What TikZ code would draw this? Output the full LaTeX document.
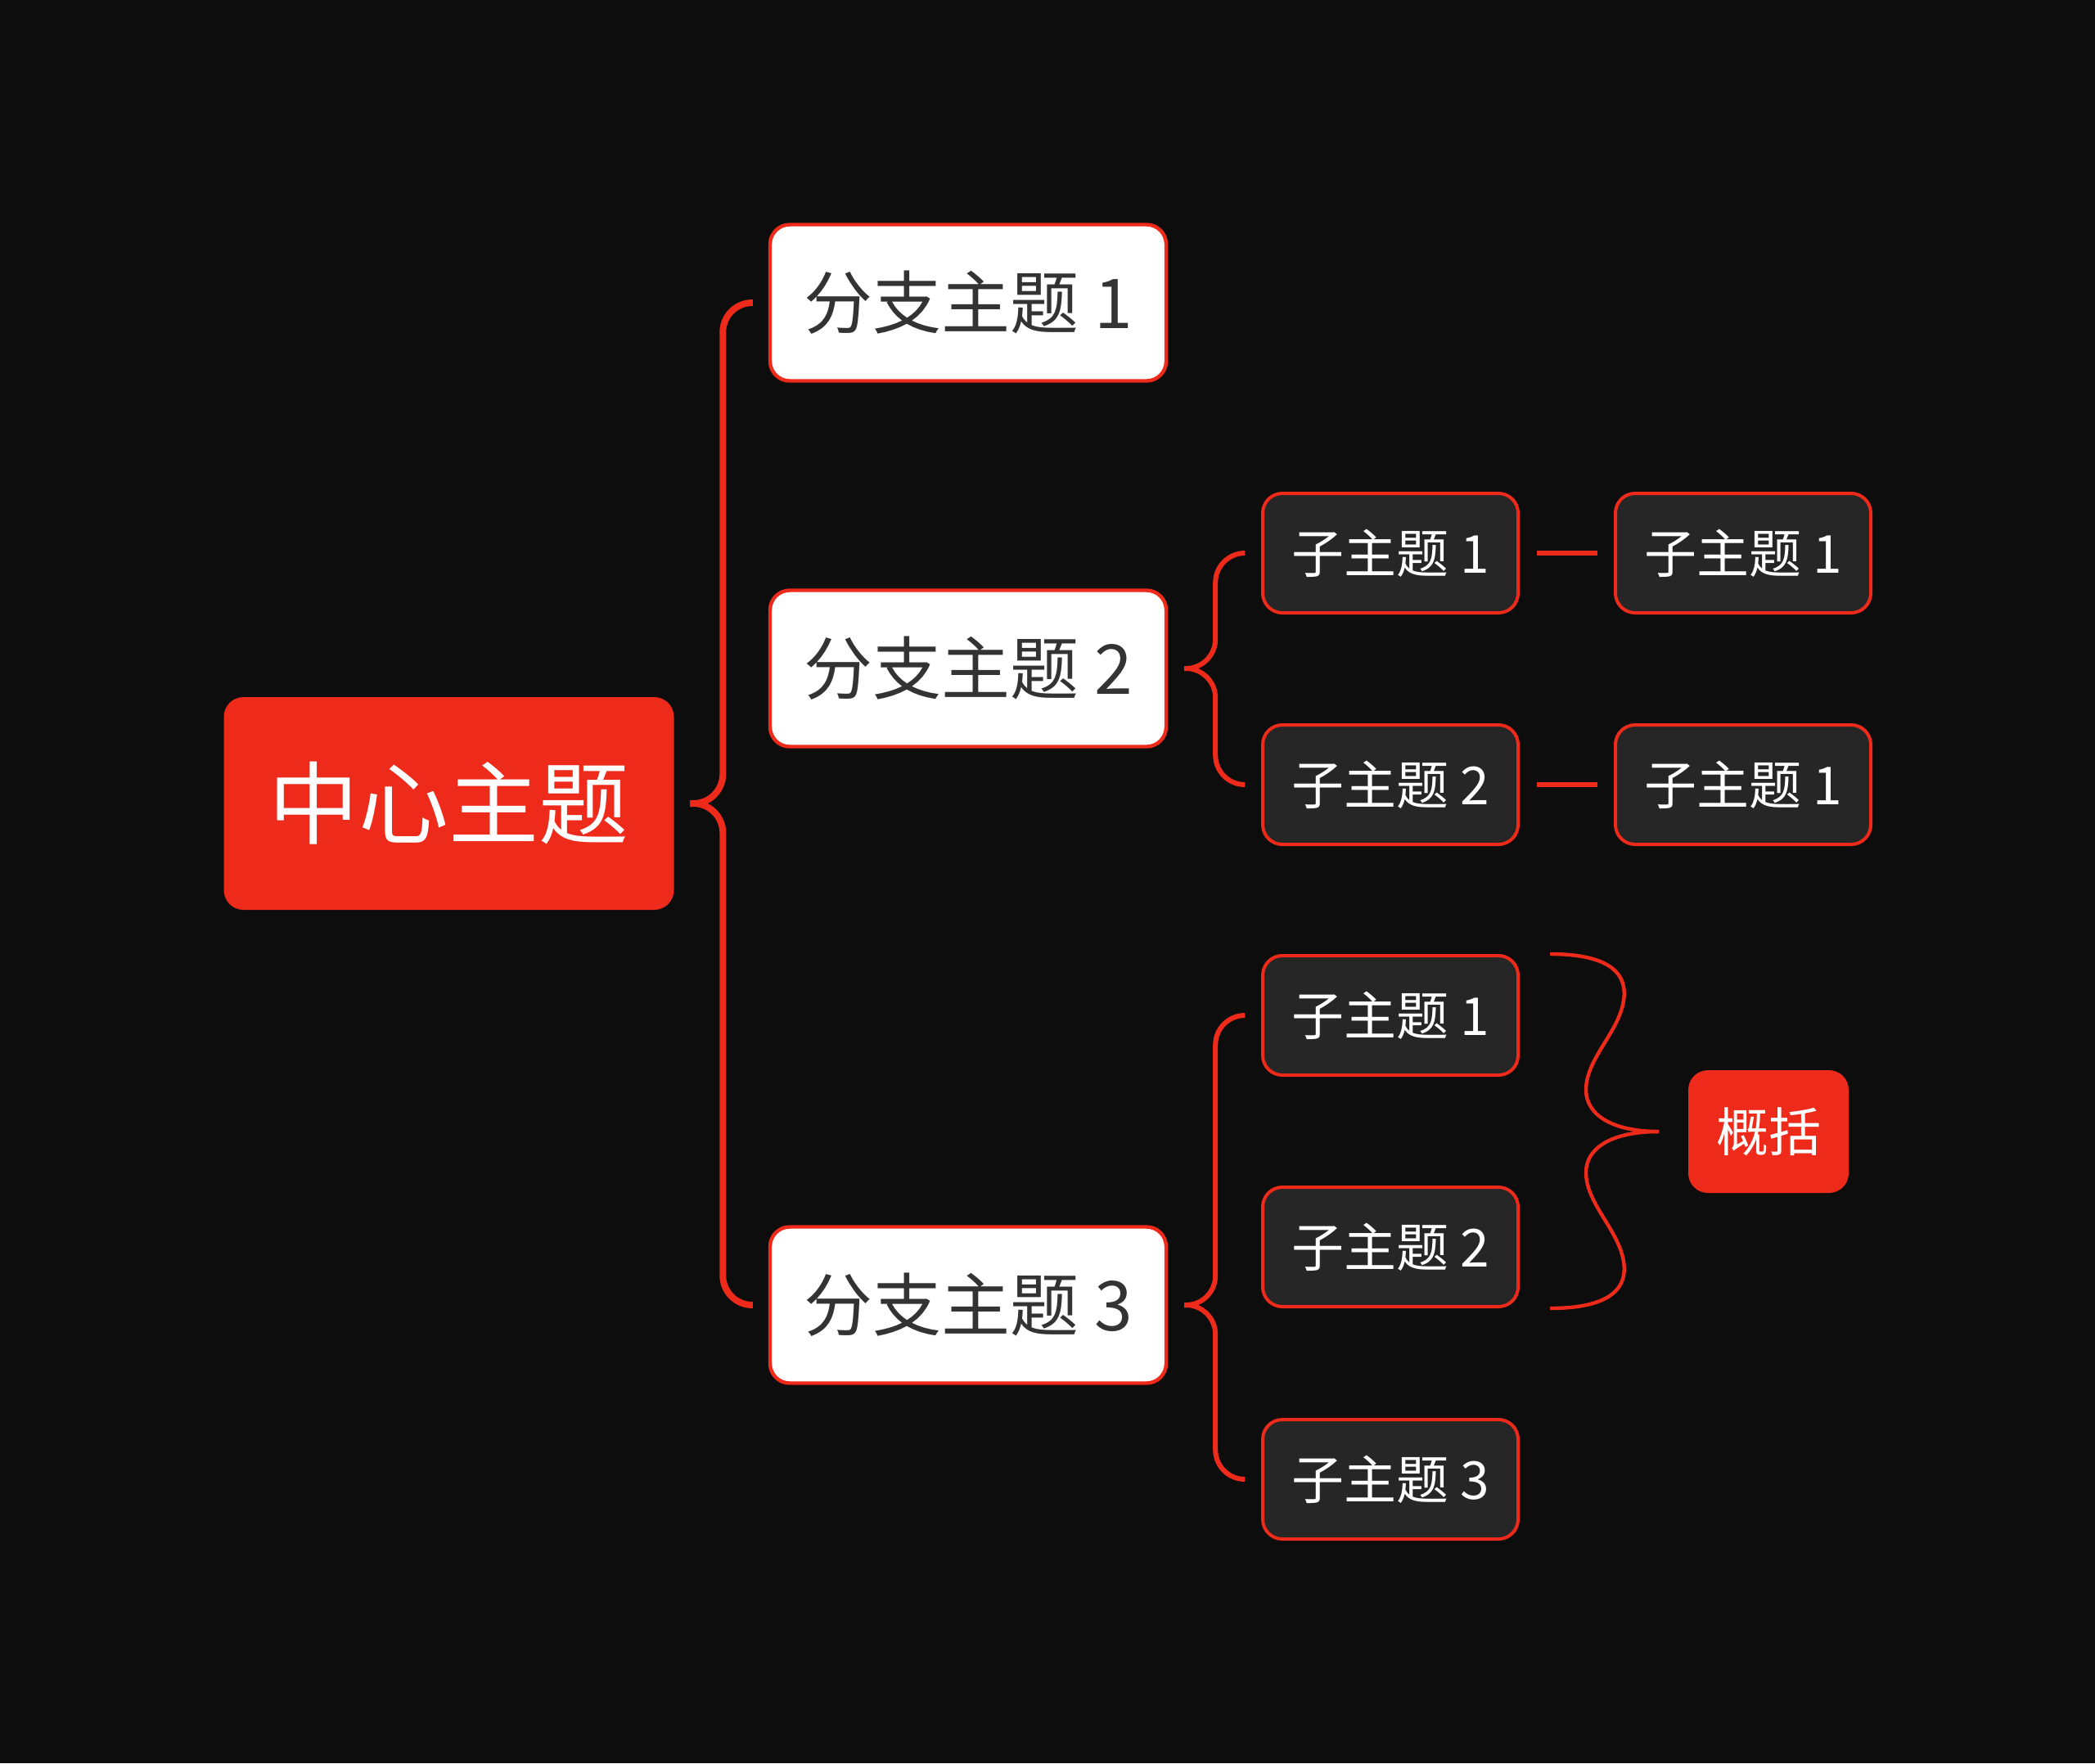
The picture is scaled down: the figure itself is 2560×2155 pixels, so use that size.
\documentclass[tikz,border=0pt]{standalone}
\usepackage{fontspec}
\setmainfont{Noto Sans CJK SC}
\usetikzlibrary{calc}
\definecolor{bg}{HTML}{0D0D0D}
\definecolor{mred}{HTML}{EE2A1A}
\definecolor{subfill}{HTML}{262626}
\definecolor{dtext}{HTML}{333333}
\tikzset{
  ctrbox/.style={fill=mred, rounded corners=6pt, inner sep=0pt, minimum width=137.5pt, minimum height=65pt, text=white, font=\fontsize{27.5pt}{33pt}\selectfont},
  brbox/.style={fill=white, draw=mred, line width=1.1pt, rounded corners=6pt, inner sep=0pt, minimum width=121pt, minimum height=47.75pt, text=dtext, font=\fontsize{21pt}{25pt}\selectfont},
  subbox/.style={fill=subfill, draw=mred, line width=1pt, rounded corners=6pt, inner sep=0pt, minimum width=78pt, minimum height=36.5pt, text=white, font=\fontsize{16pt}{19pt}\selectfont},
  sumbox/.style={fill=mred, rounded corners=6pt, inner sep=0pt, minimum width=49pt, minimum height=37.5pt, text=white, font=\fontsize{16pt}{19pt}\selectfont},
  mainconn/.style={draw=mred, line width=2pt, rounded corners=9pt},
  subconn/.style={draw=mred, line width=1.5pt, rounded corners=9pt},
  braceconn/.style={draw=mred, line width=1.1pt},
}
\begin{document}
\begin{tikzpicture}[x=0.25pt,y=-0.25pt]
\fill[bg] (0,0) rectangle (2560,2155);
\useasboundingbox (0,0) rectangle (2560,2155);

\node[ctrbox] (ctr) at (548.5,982) {中心主题};
\node[brbox] (b1) at (1183,370) {分支主题 1};
\node[brbox] (b2) at (1183,817) {分支主题 2};
\node[brbox] (b3) at (1183,1595) {分支主题 3};

\node[subbox] (sa1) at (1699,676) {子主题 1};
\node[subbox] (sa2) at (1699,959) {子主题 2};
\node[subbox] (sa3) at (1699,1241) {子主题 1};
\node[subbox] (sa4) at (1699,1524) {子主题 2};
\node[subbox] (sa5) at (1699,1808) {子主题 3};

\node[subbox] (sb1) at (2130,676) {子主题 1};
\node[subbox] (sb2) at (2130,959) {子主题 1};

\node[sumbox] (sum) at (2161,1383) {概括};

% center -> branches
\draw[mainconn] ($(ctr.east)+(19,0)$) -- ++(40,0) |- ($(b1.west)+(-19,0)$);
\draw[mainconn] ($(ctr.east)+(19,0)$) -- ++(40,0) |- ($(b3.west)+(-19,0)$);

% branch 2 -> subs
\draw[subconn] ($(b2.east)+(20,0)$) -- ++(38,0) |- ($(sa1.west)+(-21,0)$);
\draw[subconn] ($(b2.east)+(20,0)$) -- ++(38,0) |- ($(sa2.west)+(-21,0)$);

% branch 3 -> subs
\draw[subconn] ($(b3.east)+(20,0)$) -- ++(38,0) |- ($(sa3.west)+(-21,0)$);
\draw[subconn] ($(b3.east)+(20,0)$) -- ++(38,0) |- ($(sa5.west)+(-21,0)$);

% sub -> sub
\draw[subconn] ($(sa1.east)+(21,0)$) -- ($(sb1.west)+(-20,0)$);
\draw[subconn] ($(sa2.east)+(21,0)$) -- ($(sb2.west)+(-20,0)$);

% summary brace
\coordinate (st) at ($(sa3.north east)+(37,0)$);
\coordinate (en) at ($(sa4.south east)+(37,0)$);
\coordinate (tp) at ($(sum.west)+(-35,0)$);
\draw[braceconn] (st) .. controls ($(st)+(83,0)$) and ($(st)+(98,31)$) .. ($(st)+(88,66)$)
  .. controls ($(st)+(78,101)$) and ($(st)+(44,131)$) .. ($(st)+(44,166)$)
  .. controls ($(st)+(44,196)$) and ($(tp)+(-58,0)$) .. (tp);
\draw[braceconn] (en) .. controls ($(en)+(83,0)$) and ($(en)+(98,-31)$) .. ($(en)+(88,-66)$)
  .. controls ($(en)+(78,-101)$) and ($(en)+(44,-131)$) .. ($(en)+(44,-166)$)
  .. controls ($(en)+(44,-196)$) and ($(tp)+(-58,0)$) .. (tp);
\end{tikzpicture}
\end{document}
